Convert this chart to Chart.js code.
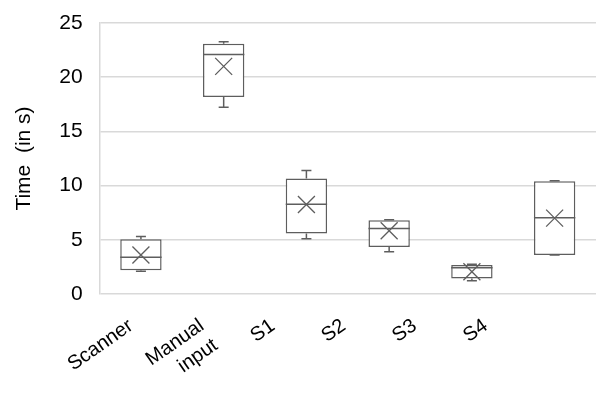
<!DOCTYPE html>
<html>
<head>
<meta charset="utf-8">
<script src="https://cdn.jsdelivr.net/npm/chart.js@4.4.1/dist/chart.umd.min.js"></script>
<style>
  body { margin: 0; background: #fff; }
  #wrap { width: 596px; height: 400px; }
</style>
</head>
<body>
<div id="wrap"><canvas id="myChart"></canvas></div>
<script>
// box plot data
const categories = ["Scanner", ["Manual", "input"], "S1", "S2", "S3", "S4"];
const mins    = [2.10, 17.22, 5.09, 3.90, 1.22, 3.60];
const q1s     = [2.18, 18.17, 5.59, 4.33, 1.44, 3.60];
const medians = [3.38, 22.10, 8.29, 6.05, 2.42, 7.03];
const q3s     = [5.06, 23.08, 10.65, 6.81, 2.67, 10.40];
const maxs    = [5.30, 23.27, 11.39, 6.85, 2.75, 10.45];
const means   = [3.60, 21.00, 8.26, 5.83, 2.05, 7.00];
const yTicks  = [0, 5, 10, 15, 20, 25];
// the slanted labels sit a bit tighter than the boxes, so they get their own axis
const labelSlots = [...categories, ""];

const lineColor = "#5e5e5e";
const fontFamily = "'Liberation Sans', Arial, sans-serif";

// whiskers + median lines, positioned with the chart's own scales
const boxExtras = {
  id: "boxExtras",
  afterDatasetsDraw(chart) {
    const ctx = chart.ctx;
    const y = chart.scales.y;
    const meta = chart.getDatasetMeta(0);
    ctx.save();
    ctx.strokeStyle = lineColor;
    ctx.lineWidth = 1.5;
    meta.data.forEach((bar, i) => {
      const half = bar.width / 2;
      const cap = 5;
      ctx.beginPath();
      // median
      ctx.moveTo(bar.x - half, y.getPixelForValue(medians[i]));
      ctx.lineTo(bar.x + half, y.getPixelForValue(medians[i]));
      // upper whisker
      ctx.moveTo(bar.x, y.getPixelForValue(q3s[i]));
      ctx.lineTo(bar.x, y.getPixelForValue(maxs[i]));
      ctx.moveTo(bar.x - cap, y.getPixelForValue(maxs[i]));
      ctx.lineTo(bar.x + cap, y.getPixelForValue(maxs[i]));
      // lower whisker
      ctx.moveTo(bar.x, y.getPixelForValue(q1s[i]));
      ctx.lineTo(bar.x, y.getPixelForValue(mins[i]));
      ctx.moveTo(bar.x - cap, y.getPixelForValue(mins[i]));
      ctx.lineTo(bar.x + cap, y.getPixelForValue(mins[i]));
      ctx.stroke();
    });
    ctx.restore();
  },
};

const ctx = document.getElementById("myChart").getContext("2d");
new Chart(ctx, {
  type: "bar",
  data: {
    labels: categories,
    datasets: [
      {
        label: "box",
        data: q1s.map((q, i) => [q, q3s[i]]),
        backgroundColor: "#ffffff",
        borderColor: lineColor,
        borderWidth: 1.5,
        borderSkipped: false,
        barPercentage: 0.5,
        categoryPercentage: 1,
        order: 1,
      },
      {
        type: "line",
        label: "mean",
        data: means,
        showLine: false,
        pointStyle: "crossRot",
        pointRadius: 12,
        pointBorderWidth: 1.3,
        borderColor: lineColor,
        backgroundColor: lineColor,
        order: 0,
      },
    ],
  },
  options: {
    responsive: true,
    maintainAspectRatio: false,
    animation: false,
    layout: { autoPadding: false, padding: { top: 23, left: 12, right: 0, bottom: 0 } },
    plugins: { legend: { display: false }, tooltip: { enabled: false } },
    scales: {
      x: { display: false, offset: true },
      xl: {
        type: "category",
        labels: labelSlots,
        position: "bottom",
        offset: true,
        grid: { display: false },
        border: { display: false },
        afterFit: (scale) => {
          scale.paddingLeft = 0;
          scale.paddingRight = 0;
          scale.height = 106;
        },
        ticks: {
          autoSkip: false,
          maxRotation: 35,
          minRotation: 35,
          padding: 12,
          labelOffset: -4,
          color: "#000",
          font: { family: fontFamily, size: 20 },
        },
      },
      y: {
        min: 0,
        max: 25,
        afterBuildTicks: (scale) => {
          scale.ticks = yTicks.map((v) => ({ value: v }));
        },
        afterFit: (scale) => {
          scale.paddingTop = 0;
          scale.paddingBottom = 0;
        },
        grid: { color: "#d9d9d9", lineWidth: 1.5, drawTicks: false },
        border: { display: true, color: "#d9d9d9", width: 1.5 },
        ticks: { color: "#000", font: { family: fontFamily, size: 21 }, padding: 17 },
        title: {
          display: true,
          text: "Time  (in s)",
          color: "#000",
          font: { family: fontFamily, size: 21 },
          padding: { top: 0, bottom: 5 },
        },
      },
    },
  },
  plugins: [boxExtras],
});
</script>
</body>
</html>
